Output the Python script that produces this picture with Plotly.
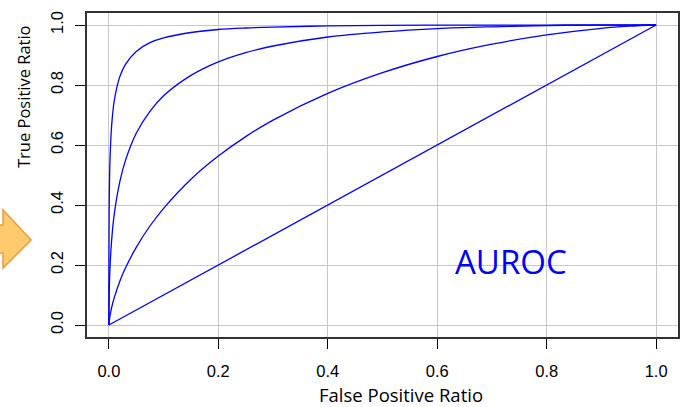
import plotly.graph_objects as go

# False positive ratio sample points
fpr = [0.0, 0.0001, 0.0005, 0.001, 0.002, 0.005, 0.01, 0.02, 0.03, 0.05, 0.075,
       0.1, 0.15, 0.2, 0.25, 0.3, 0.4, 0.5, 0.6, 0.7, 0.8, 0.9, 0.95, 1.0]

# Three ROC curves (weak, medium, strong)
tpr_weak = [0.0, 0.003, 0.011, 0.018, 0.030, 0.058, 0.092, 0.146, 0.189, 0.259, 0.330,
            0.389, 0.486, 0.563, 0.628, 0.683, 0.772, 0.841, 0.895, 0.936, 0.967, 0.989, 0.996, 1.0]
tpr_mid = [0.0, 0.043, 0.099, 0.138, 0.190, 0.282, 0.372, 0.478, 0.547, 0.639, 0.712,
           0.764, 0.832, 0.877, 0.908, 0.930, 0.960, 0.977, 0.988, 0.994, 0.998, 0.9995, 0.9999, 1.0]
tpr_strong = [0.0, 0.236, 0.386, 0.464, 0.549, 0.664, 0.750, 0.828, 0.868, 0.912, 0.941,
              0.957, 0.975, 0.985, 0.990, 0.993, 0.997, 0.9987, 0.9994, 0.9998, 0.9999, 1.0, 1.0, 1.0]

# Chance diagonal
diag_x = [0.0, 1.0]
diag_y = [0.0, 1.0]

tick_vals = [0.0, 0.2, 0.4, 0.6, 0.8, 1.0]
tick_text = ["0.0", "0.2", "0.4", "0.6", "0.8", "1.0"]

W, H = 681, 407
L, R, T, B = 87, 3, 13, 70

fig = go.Figure()
line_style = dict(color="#0000FF", width=1.3)
for xs, ys in [(diag_x, diag_y), (fpr, tpr_weak), (fpr, tpr_mid), (fpr, tpr_strong)]:
    fig.add_trace(go.Scatter(x=xs, y=ys, mode="lines", line=line_style,
                             line_shape="spline", hoverinfo="skip", showlegend=False))

axis_common = dict(
    tickvals=tick_vals, ticktext=tick_text,
    showgrid=True, gridcolor="#C8C8C8", gridwidth=1,
    zeroline=False,
    showline=True, linecolor="#333333", linewidth=1.5, mirror=True,
    ticks="outside", ticklen=10, tickwidth=1, tickcolor="#000000",
    tickfont=dict(family="Liberation Sans, Arial", size=16.5, color="#000000"),
)

fig.update_layout(
    width=W, height=H,
    margin=dict(l=L, r=R, t=T, b=B, autoexpand=False),
    paper_bgcolor="white", plot_bgcolor="white",
    xaxis=dict(range=[-0.04, 1.04], ticklabelstandoff=8, automargin=False, **axis_common),
    yaxis=dict(range=[-0.04, 1.04], tickangle=-90, ticklabelstandoff=6, automargin=False, **axis_common),
)

def px_to_paper(px, py):
    return (px - L) / (W - L - R), (H - B - py) / (H - T - B)

# Axis titles
tx, ty = px_to_paper(401, 395)
fig.add_annotation(text="False Positive Ratio", xref="paper", yref="paper", x=tx, y=ty,
                   showarrow=False, xanchor="center", yanchor="middle", borderpad=0,
                   font=dict(family="Open Sans", size=18.5, color="#000000"))
tx, ty = px_to_paper(23, 97)
fig.add_annotation(text="True Positive Ratio", xref="paper", yref="paper", x=tx, y=ty,
                   showarrow=False, xanchor="center", yanchor="middle", textangle=-90,
                   font=dict(family="Open Sans", size=16.5, color="#000000"))

# AUROC label
tx, ty = px_to_paper(511, 261)
fig.add_annotation(text="AUROC", xref="paper", yref="paper", x=tx, y=ty,
                   showarrow=False, xanchor="center", yanchor="middle",
                   font=dict(family="Open Sans", size=33, color="#0000FF"))

# Orange arrow (decoration on the left edge)
arrow_px = [(-5, 225), (3, 225), (3, 210), (31, 240), (3, 268), (3, 253), (-5, 253)]
pts = [px_to_paper(a, b) for a, b in arrow_px]
path = "M " + " L ".join(f"{a:.5f},{b:.5f}" for a, b in pts) + " Z"
fig.add_shape(type="path", path=path, xref="paper", yref="paper",
              fillcolor="#FFCA6E", line=dict(color="#F29A3F", width=1.5), layer="above")

fig.write_html("out.html", config={"displayModeBar": False},
               post_script="document.body.style.margin='0';document.body.style.overflow='hidden';")
